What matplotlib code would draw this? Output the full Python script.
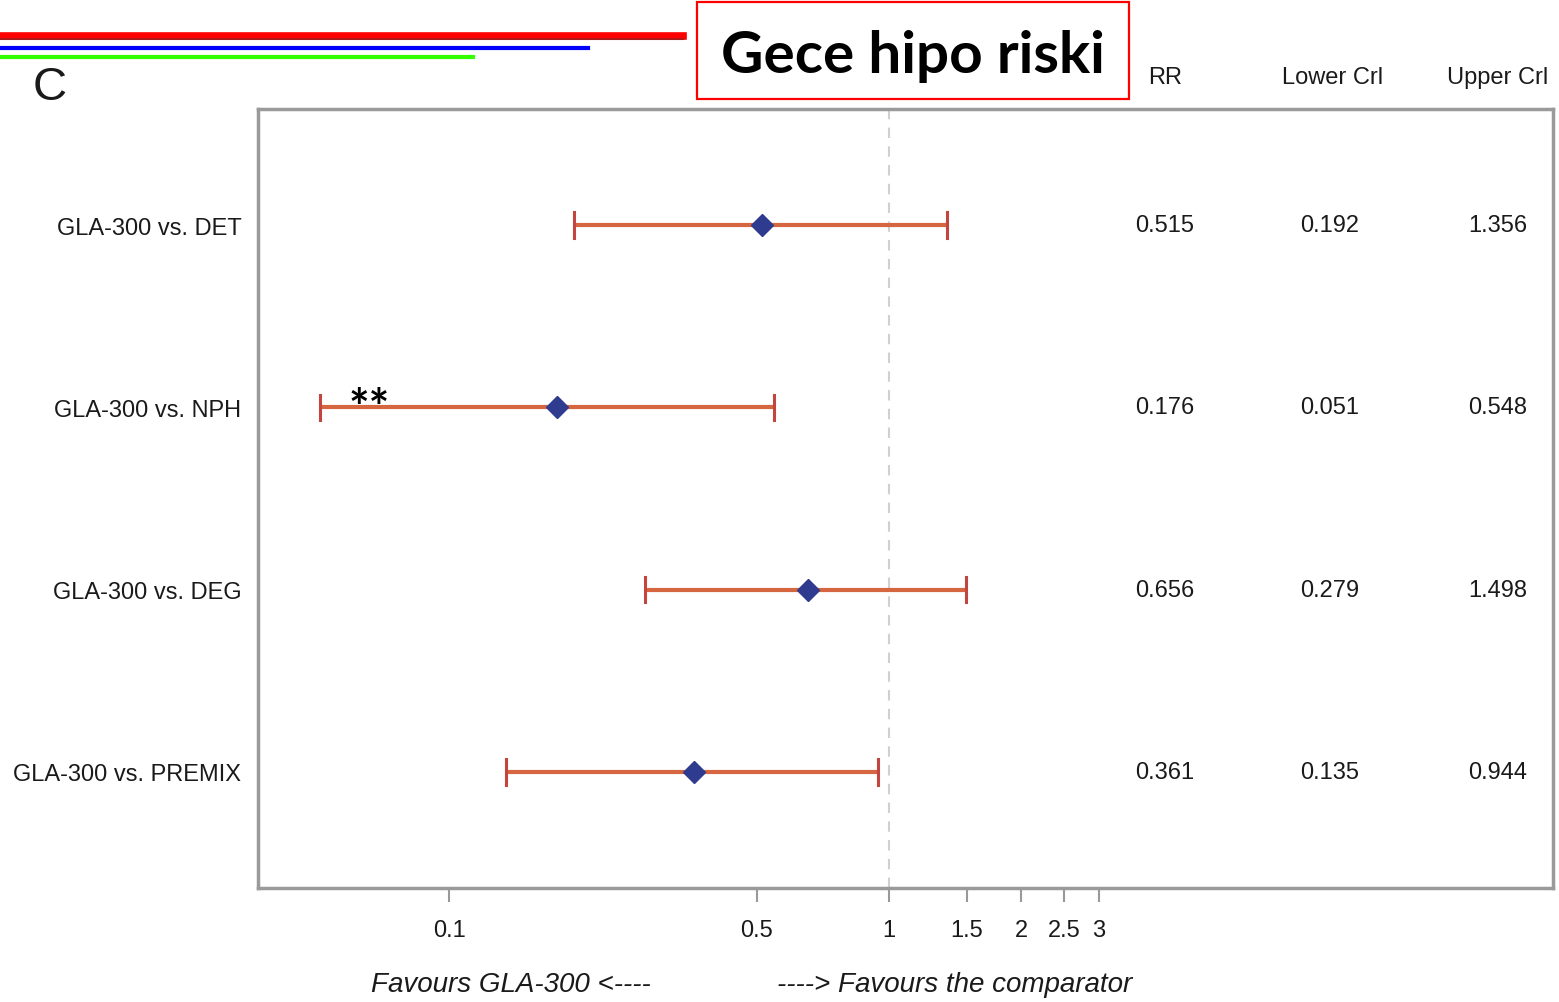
import matplotlib
matplotlib.use("Agg")
import matplotlib.pyplot as plt
from matplotlib.lines import Line2D
from matplotlib.patches import Rectangle
from matplotlib.transforms import blended_transform_factory
import matplotlib.font_manager as fm

# forest plot data: nocturnal hypoglycaemia risk
comparisons = ["GLA-300 vs. DET", "GLA-300 vs. NPH", "GLA-300 vs. DEG", "GLA-300 vs. PREMIX"]
rr = [0.515, 0.176, 0.656, 0.361]
lower = [0.192, 0.051, 0.279, 0.135]
upper = [1.356, 0.548, 1.498, 0.944]
xticks = [0.1, 0.5, 1, 1.5, 2, 2.5, 3]
xtick_labels = ["0.1", "0.5", "1", "1.5", "2", "2.5", "3"]
headers = ["RR", "Lower Crl", "Upper Crl"]

names = {f.name for f in fm.fontManager.ttflist}
narrow = "Liberation Sans Narrow" if "Liberation Sans Narrow" in names else "Liberation Sans"
plt.rcParams["font.family"] = [narrow, "DejaVu Sans"]
txt_col = "#1a1a1a"

fig = plt.figure(figsize=(15.59, 10.03), dpi=100)
ax = fig.add_axes([0.1655, 0.1137, 0.8307, 0.7766])

ypos = list(range(1, len(comparisons) + 1))
bar_col = "#d5663f"
cap_col = "#c2453f"
for y, m, lo, hi in zip(ypos, rr, lower, upper):
    ax.plot([lo, hi], [y, y], color=bar_col, lw=3, solid_capstyle="butt", zorder=2)
    ax.plot([lo, lo], [y - 0.07, y + 0.07], color=cap_col, lw=2.2, zorder=2)
    ax.plot([hi, hi], [y - 0.07, y + 0.07], color=cap_col, lw=2.2, zorder=2)
ax.plot(rr, ypos, linestyle="none", marker="D", ms=11, color="#2f3b8f",
        markeredgecolor="#2f3b8f", zorder=3)

ax.axvline(1, color="#d0d0d0", lw=1.5, ls=(0, (5, 4)), zorder=1)

ax.set_xscale("log")
ax.set_xlim(0.0368, 32.3)
ax.set_ylim(4.637, 0.363)
ax.set_xticks(xticks)
ax.set_xticklabels(xtick_labels)
ax.minorticks_off()
ax.tick_params(axis="x", length=10, width=1.5, color="#999999", pad=12, labelsize=17,
               labelcolor=txt_col)
ax.set_yticks(ypos)
ax.set_yticklabels(comparisons, fontsize=17, color=txt_col)
ax.tick_params(axis="y", length=0, pad=12)
for s in ax.spines.values():
    s.set_color("#9a9a9a")
    s.set_linewidth(2.5)

# table columns on the right
col_x = [0.7004, 0.8278, 0.9575]
tr = blended_transform_factory(ax.transAxes, ax.transData)
for y, vals in zip(ypos, zip(rr, lower, upper)):
    for cx, v in zip(col_x, vals):
        ax.text(cx, y, f"{v:.3f}", transform=tr, ha="center", va="center",
                fontsize=17, color=txt_col)
for cx, h in zip([1165, 1333, 1498], headers):
    fig.text(cx / 1559, 1 - 78 / 1003, h, ha="center", va="center", fontsize=17, color=txt_col)

ax.text(0.066, 2.09, "**", ha="center", va="baseline", fontsize=35, fontweight="bold",
        family=["Lato", "DejaVu Sans"])

fig.text(511 / 1559, 1 - 985 / 1003, "Favours GLA-300 <----", ha="center", va="center",
         fontsize=20, style="italic", color=txt_col)
fig.text(955 / 1559, 1 - 985 / 1003, "----> Favours the comparator", ha="center", va="center",
         fontsize=20, style="italic", color=txt_col)

fig.text(50 / 1559, 1 - 100 / 1003, "C", ha="center", va="baseline", fontsize=34,
         family=["Liberation Sans", "DejaVu Sans"], color=txt_col)

# coloured header rules
fig.add_artist(Line2D([0, 683 / 1559], [1 - 37 / 1003] * 2, color="#ff0000", lw=5.5))
fig.add_artist(Line2D([0, 683 / 1559], [1 - 39.5 / 1003] * 2, color="#b01818", lw=1.5))
fig.add_artist(Line2D([0, 588 / 1559], [1 - 49 / 1003] * 2, color="#0000ff", lw=3))
fig.add_artist(Line2D([0, 473 / 1559], [1 - 58 / 1003] * 2, color="#33ff00", lw=3))

fig.add_artist(Rectangle((697 / 1559, 1 - 100 / 1003), 432 / 1559, 97 / 1003,
                         transform=fig.transFigure, fill=False, edgecolor="#ff0000", lw=1.6))
fig.text(913 / 1559, 1 - 73 / 1003, "Gece hipo riski", ha="center", va="baseline",
         fontsize=42, fontweight="bold", family=["Lato", "DejaVu Sans"])

fig.savefig("out.png", dpi=100, facecolor="white")
